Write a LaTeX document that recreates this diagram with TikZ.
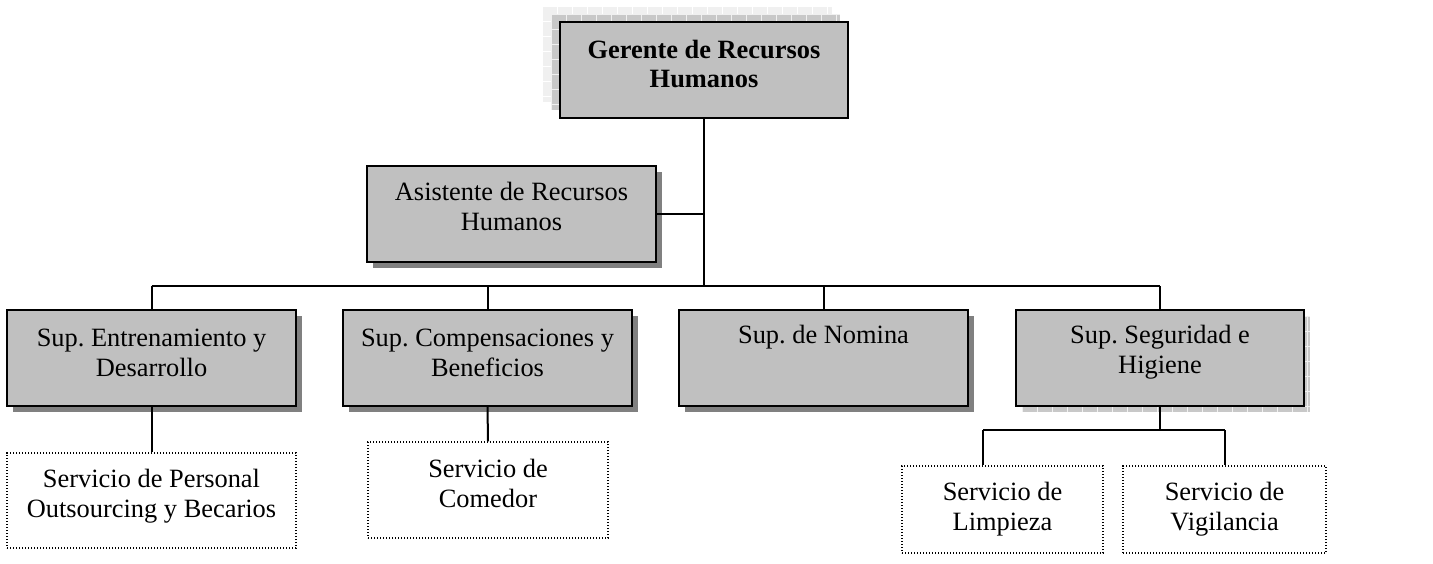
\documentclass[tikz,border=0pt]{standalone}
\usepackage{fontspec}
\setmainfont{Liberation Serif}
\frenchspacing
\definecolor{silver}{HTML}{C0C0C0}
\definecolor{shad}{HTML}{808080}
\definecolor{gridl}{HTML}{F0F0F0}
\definecolor{gridm}{HTML}{C8C8C8}
\tikzset{
  gbx/.style={draw, line width=1.2pt, fill=silver, inner sep=0pt},
  svc/.style={draw, line width=0.7pt, dash pattern=on 0.7pt off 0.8pt, fill=white, inner sep=0pt},
  lbl/.style={align=center, inner sep=0pt, anchor=base, font=\fontsize{13.2}{15}\selectfont\frenchspacing},
  conn/.style={line width=1pt},
}
% #7 = baseline of the last text line
\newcommand\orggbox[7]{%
  \fill[shad] (#2+6,#3+6) rectangle (#4+6,#5+6);
  \node[gbx, minimum width={(#4-#2)*0.5pt}, minimum height={(#5-#3)*0.5pt}] (#1) at ({(#2+#4)/2},{(#3+#5)/2}) {};
  \node[lbl] (#1t) at ({(#2+#4)/2},#7) {#6};
}
\newcommand\orgsvcbox[7]{%
  \node[svc, minimum width={(#4-#2)*0.5pt}, minimum height={(#5-#3)*0.5pt}] (#1) at ({(#2+#4)/2},{(#3+#5)/2}) {};
  \node[lbl] (#1t) at ({(#2+#4)/2},#7) {#6};
}
\begin{document}
\begin{tikzpicture}[x=0.5pt,y=-0.5pt]
\useasboundingbox (0,0) rectangle (1433,563);
% Gerente shadow (patterned, up-left)
\begin{scope}
  \fill[gridl] (542,6) rectangle (832,102);
  \clip (542,6) rectangle (832,102);
  \foreach \i in {0,...,20} {\draw[white, line width=0.4pt] (542+\i*15,6) -- (542+\i*15,102);}
  \foreach \j in {0,...,7} {\draw[white, line width=0.4pt] (542,6+\j*15) -- (832,6+\j*15);}
\end{scope}
\begin{scope}
  \fill[gridm] (551,14) rectangle (840,110);
  \clip (551,14) rectangle (840,110);
  \foreach \i in {0,...,20} {\draw[gridl, line width=0.4pt] (551+\i*15,14) -- (551+\i*15,110);}
  \foreach \j in {0,...,7} {\draw[gridl, line width=0.4pt] (551,14+\j*15) -- (840,14+\j*15);}
\end{scope}
\node[gbx, minimum width={288*0.5pt}, minimum height={96*0.5pt}] (ger) at (704,70) {};
\node[lbl, font=\bfseries\fontsize{13.2}{14.5}\selectfont] (gert) at (704,87) {Gerente de Recursos\\Humanos};
% Asistente
\orggbox{asi}{367}{166}{656}{262}{Asistente de Recursos\\Humanos}{230}
% second row
\orggbox{ent}{7}{310}{296}{406}{Sup. Entrenamiento y\\Desarrollo}{376}
\orggbox{comp}{343}{310}{632}{406}{Sup. Compensaciones y\\Beneficios}{376}
\orggbox{nom}{679}{310}{968}{406}{Sup. de Nomina}{343}
% Seguridad with patterned shadow
\begin{scope}
  \fill[gridm] (1022,316) rectangle (1310,412);
  \clip (1022,316) rectangle (1310,412);
  \foreach \i in {0,...,20} {\draw[gridl, line width=0.4pt] (1022+\i*15,316) -- (1022+\i*15,412);}
  \foreach \j in {0,...,7} {\draw[gridl, line width=0.4pt] (1022,316+\j*15) -- (1310,316+\j*15);}
\end{scope}
\node[gbx, minimum width={288*0.5pt}, minimum height={96*0.5pt}] (seg) at (1160,358) {};
\node[lbl] (segt) at (1160,373) {Sup. Seguridad e\\Higiene};
% services
\orgsvcbox{per}{7}{453}{296}{548}{Servicio de Personal\\Outsourcing y Becarios}{517}
\orgsvcbox{com}{368}{442}{608}{538}{Servicio de\\Comedor}{507}
\orgsvcbox{lim}{902}{466}{1103}{553}{Servicio de\\Limpieza}{530}
\orgsvcbox{vig}{1123}{466}{1326}{553}{Servicio de\\Vigilancia}{530}
% connectors
\coordinate (bus) at (704,286);
\draw[conn] (ger.south) -- (bus);
\draw[conn] (asi.east) -- (asi.east -| bus);
\draw[conn] (ent.north |- bus) -- (seg.north |- bus);
\draw[conn] (ent.north |- bus) -- (ent.north);
\draw[conn] (comp.north |- bus) -- (comp.north);
\draw[conn] (nom.north |- bus) -- (nom.north);
\draw[conn] (seg.north |- bus) -- (seg.north);
\draw[conn] (ent.south) -- (per.north);
\draw[conn] (comp.south) -- (com.north);
\coordinate (sb) at (1160,430);
\coordinate (lb) at (983,430);
\draw[conn] (seg.south) -- (sb);
\draw[conn] (lb) -- (vig.north |- sb);
\draw[conn] (lb) -- (lb |- lim.north);
\draw[conn] (vig.north |- sb) -- (vig.north);
\end{tikzpicture}
\end{document}
